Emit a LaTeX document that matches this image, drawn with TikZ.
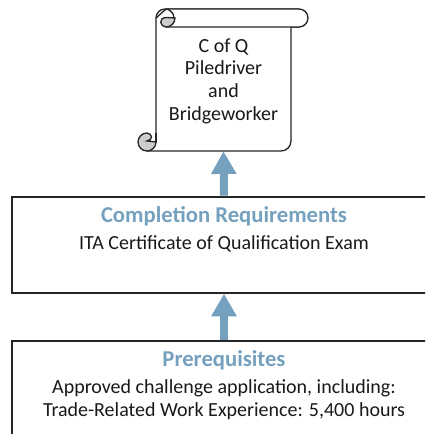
\documentclass[tikz,border=0pt]{standalone}
\usepackage{fontspec}
\setmainfont{Carlito}
\usetikzlibrary{arrows.meta}
\definecolor{steel}{RGB}{117,161,190}
\definecolor{curl}{RGB}{205,205,205}
\tikzset{
  px/.style={x=0.75pt,y=-0.75pt},
  panel/.style={draw=black!85,line width=1pt,inner sep=0pt,minimum width=318pt},
  txt/.style={font=\fontsize{15}{17}\selectfont,text=black!90,inner sep=0pt,align=center},
  headtxt/.style={font=\fontsize{17}{20}\selectfont\bfseries,text=steel,inner sep=0pt},
  uparrow/.style={draw=steel,line width=6pt,shorten <=0.5pt,-{Triangle[width=18pt,length=17pt,fill=steel]}},
  scrollline/.style={draw=black!85,line width=1pt,line join=round},
  curlfill/.style={fill=curl,draw=black!85,line width=1pt}
}
\begin{document}
\begin{tikzpicture}[px]
\useasboundingbox (0,0) rectangle (425,434);
\clip (0,0) rectangle (425,434);
% scroll body, ribbon and curls
\path[scrollline,fill=white] (291,27) -- (291,141) arc[start angle=0,end angle=-90,radius=7.5pt] -- (147,151) -- (156,142) -- (156,18) -- (166,9) -- (299,9) -- (299,27) -- cycle;
\path[scrollline,fill=white] (166,9) -- (299,9) arc[start angle=90,end angle=-90,radius=6.75pt] -- (166,27);
\path[curlfill] (175,18) arc[start angle=0,end angle=-90,radius=6.75pt] .. controls (160,27) and (158,18) .. (166,17.5) -- cycle;
\path[scrollline] (156,18) arc[start angle=180,end angle=0,radius=6.75pt];
\path[curlfill] (156,142) arc[start angle=0,end angle=-270,radius=6.75pt] .. controls (153,134) and (153,140) .. (147,141) -- cycle;
\path[scrollline] (156,133) -- (156,142);
\node[inner sep=0pt,minimum width=101pt,minimum height=93pt] (scroll) at (223.5,89) {};
\node[txt] (scrolltext) at (223.5,81) {C of Q\\Piledriver\\and\\Bridgeworker};
% panels
\node[panel,minimum height=72pt] (comp) at (224,245) {};
\node[panel,minimum height=90pt] (pre) at (224,401) {};
\node[headtxt] (comphead) at (224,216) {Completion Requirements};
\node[txt] (comptext) at (224,244) {ITA Certificate of Qualification Exam};
\node[headtxt] (prehead) at (224,360) {Prerequisites};
\node[txt] (pretext) at (224,399.5) {Approved challenge application, including:\\Trade-Related Work Experience: 5,400 hours};
% arrows
\draw[uparrow] (comp.north) -- (scroll.south);
\draw[uparrow] (pre.north) -- (comp.south);
\end{tikzpicture}
\end{document}
